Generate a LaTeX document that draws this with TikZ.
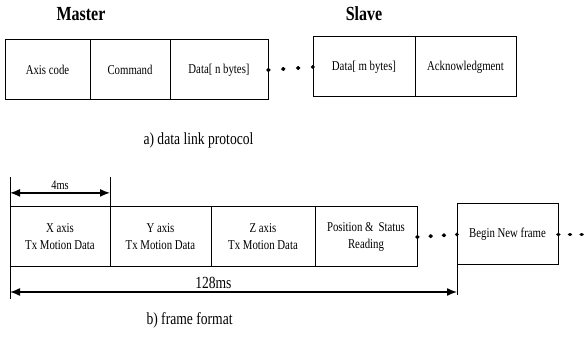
\documentclass[tikz,border=0pt]{standalone}
\usepackage{fontspec}
\setmainfont{Liberation Serif}[FakeStretch=0.8]
\usetikzlibrary{arrows.meta}
\usetikzlibrary{positioning}
\usetikzlibrary{calc}
\tikzset{
  field/.style={draw, line width=1pt, outer sep=0pt, inner sep=1pt,
    minimum height=60pt, align=center, font=\fontsize{13.5}{17}\selectfont},
  dotline/.style={line width=3.8pt, line cap=round, dash pattern=on 0.8pt off #1},
  dotline/.default=13.2pt,
  heading/.style={font=\fontsize{20}{22}\selectfont\bfseries},
  caption/.style={font=\fontsize{17}{19}\selectfont, anchor=base west},
  dim/.style={<->, >={Latex[length=10pt,width=8pt]}, line width=1.4pt},
  tick/.style={line width=1pt},
}

\begin{document}
\begin{tikzpicture}[x=1pt,y=-1pt]
  \useasboundingbox (0,0) rectangle (584,347);
  % a) data link protocol
  \node[heading] (master) at (81,14) {Master};
  \node[heading] (slave) at (364,14) {Slave};
  \node[field, minimum width=85pt, anchor=north west] (axis) at (5,40) {Axis code};
  \node[field, minimum width=80pt] (cmd) [right=0pt of axis] {Command};
  \node[field, minimum width=98pt] (datan) [right=0pt of cmd] {Data[ n bytes]};
  \node[field, minimum width=102pt, anchor=north west] (datam) at (313,37) {Data[ m bytes]};
  \node[field, minimum width=101pt] (ack) [right=0pt of datam] {Acknowledgment};
  \draw[dotline=14.1pt] (datan.east) -- (datam.west);
  \node[caption] (capa) at (140,145) {a) data link protocol};

  % b) frame format
  \node[field, minimum width=100pt, anchor=north west] (xax) at (10,207) {X axis\\Tx Motion Data};
  \node[field, minimum width=101pt] (yax) [right=0pt of xax] {Y axis\\Tx Motion Data};
  \node[field, minimum width=104pt] (zax) [right=0pt of yax] {Z axis\\Tx Motion Data};
  \node[field, minimum width=102pt] (pos) [right=0pt of zax] {Position \&\ \,Status\\Reading};
  \node[field, minimum width=101pt, minimum height=61pt, anchor=north west] (newf) at (457,204) {Begin New frame};
  \coordinate (tail) at (582,234.5);
  \draw[dotline=12.5pt] (pos.east) -- (newf.west);
  \draw[dotline=10.8pt] (newf.east) -- (tail);

  % 4ms
  \coordinate (tickL) at (10,177);
  \coordinate (tickR) at (110,177);
  \draw[tick] (xax.north west) -- (tickL);
  \draw[tick] (xax.north east) -- (tickR);
  \draw[dim] ($(tickL)!0.53!(xax.north west)$) -- ($(tickR)!0.53!(xax.north east)$)
    node[midway, above=-1pt, font=\fontsize{13}{15}\selectfont] {4ms};

  % 128ms
  \coordinate (endL) at (10,299);
  \coordinate (endR) at (457,295);
  \coordinate (arrL) at (10,292);
  \coordinate (arrR) at (457,292);
  \draw[tick] (xax.south west) -- (endL);
  \draw[tick] (newf.south west) -- (endR);
  \draw[dim] (arrL) -- (arrR)
    node[pos=0.455, above=-1pt, font=\fontsize{17}{19}\selectfont] {128ms};
  \node[caption] (capb) at (143,325) {b) frame format};
\end{tikzpicture}
\end{document}
